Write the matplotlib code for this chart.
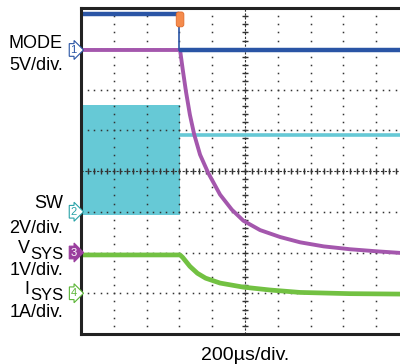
import numpy as np
import matplotlib
matplotlib.use("Agg")
import matplotlib.pyplot as plt

plt.rcParams['font.family'] = ['Liberation Sans', 'DejaVu Sans']

# screen divisions: x 0..10 (200us/div), y 0..8
trig = 3.02

mode_t = [0.0, 3.0, 3.0, 10.0]
mode_y = [7.85, 7.85, 6.97, 6.97]

vsys_t = [0.0, 3.02, 3.1, 3.2, 3.32, 3.45, 3.63, 3.88, 4.24, 4.6, 4.95, 5.46,
          6.07, 6.68, 7.4, 8.2, 9.0, 9.73, 10.0]
vsys_y = [6.97, 6.97, 6.5, 5.95, 5.38, 4.9, 4.40, 3.95, 3.42, 3.05, 2.78, 2.55,
          2.38, 2.25, 2.15, 2.08, 2.03, 1.99, 1.98]

isys_t = [0.0, 3.02, 3.1, 3.32, 3.55, 3.8, 4.24, 4.95, 5.76, 6.68, 8.2, 9.73, 10.0]
isys_y = [1.94, 1.94, 1.88, 1.66, 1.49, 1.37, 1.25, 1.15, 1.08, 1.02, 0.99, 0.98, 0.98]

sw_top, sw_bot = 5.62, 2.92
sw_after = 4.88

ch_level = {'1': 6.97, '2': 3.0, '3': 2.0, '4': 1.0}
ch_color = {'1': '#2a55a5', '2': '#2aa3a8', '3': '#9a3e9e', '4': '#5bb536'}

blue = '#2a55a5'
purple = '#a457ad'
cyan = '#66c9d6'
green = '#72c142'

fig = plt.figure(figsize=(4, 3.64), dpi=100)
ax = fig.add_axes([81/400, 1-334/364, (409-81)/400, 326/364])
ax.set_xlim(0, 10)
ax.set_ylim(0, 8)
ax.set_xticks([])
ax.set_yticks([])
for s in ['left', 'top', 'bottom']:
    ax.spines[s].set_linewidth(2.2)
    ax.spines[s].set_color('#222222')
ax.spines['right'].set_visible(False)

# dotted graticule
for gx in range(1, 10):
    yy = np.arange(0, 8.01, 0.2)
    ax.plot(np.full_like(yy, gx), yy, ls='none', marker='s', ms=1.1, color='#333333', mew=0)
for gy in range(1, 8):
    xx = np.arange(0, 10.01, 0.2)
    ax.plot(xx, np.full_like(xx, gy), ls='none', marker='s', ms=1.1, color='#333333', mew=0)
# center cross with ticks
ax.axvline(5, color='#333333', lw=0.8, ls=(0, (2, 1.5)))
ax.axhline(4, color='#333333', lw=0.8, ls=(0, (2, 1.5)))
yy = np.arange(0, 8.01, 0.2)
ax.plot(np.full_like(yy, 5), yy, ls='none', marker='_', ms=5, mew=1, color='#333333')
xx = np.arange(0, 10.01, 0.2)
ax.plot(xx, np.full_like(xx, 4), ls='none', marker='|', ms=5, mew=1, color='#333333')

# traces
ax.fill_between([0, trig], sw_bot, sw_top, color=cyan, lw=0)
ax.plot([trig, 10], [sw_after, sw_after], color=cyan, lw=2.6)
ax.plot(isys_t, isys_y, color=green, lw=3.4, solid_capstyle='butt', solid_joinstyle='round')
ax.plot(vsys_t, vsys_y, color=purple, lw=2.8, solid_capstyle='butt', solid_joinstyle='round')
ax.plot(mode_t[:2], mode_y[:2], color=blue, lw=3.2, solid_capstyle='butt')
ax.plot(mode_t[1:3], mode_y[1:3], color=blue, lw=1.2)
ax.plot(mode_t[2:], mode_y[2:], color=blue, lw=3.2, solid_capstyle='butt')

# trigger marker
ax.annotate(' ', xy=(trig, 7.72), ha='center', va='center', fontsize=7,
            bbox=dict(boxstyle='round,pad=0.25', fc='#f58b4c', ec='#e06a2a', lw=0.6),
            annotation_clip=False)

# channel markers
for ch, lvl in ch_level.items():
    filled = ch == '3'
    ax.annotate(ch, xy=(0, lvl), xytext=(-3, 0), textcoords='offset points',
                ha='right', va='center', fontsize=8,
                color='white' if filled else ch_color[ch],
                bbox=dict(boxstyle='rarrow,pad=0.12', fc=ch_color[ch] if filled else 'white',
                          ec=ch_color[ch], lw=0.8),
                annotation_clip=False)

def ftext(x, y, s, **kw):
    return fig.text(x/400, 1-y/364, s, ha='right', va='baseline', fontsize=13, **kw)

ftext(63, 48, 'MODE')
ftext(63, 70, '5V/div.')
ftext(63, 208, 'SW')
ftext(63, 233, '2V/div.')
sys1 = ftext(63, 259, 'SYS', )
sys1.set_fontsize(12)
ax.annotate('V', xy=(0, 0), xycoords=sys1, xytext=(0, 5), textcoords='offset pixels',
            ha='right', va='bottom', fontsize=13)
ftext(63, 275, '1V/div.')
sys2 = ftext(63, 300, 'SYS')
sys2.set_fontsize(12)
ax.annotate('I', xy=(0, 0), xycoords=sys2, xytext=(0, 5), textcoords='offset pixels',
            ha='right', va='bottom', fontsize=13)
ftext(63, 317, '1A/div.')
fig.text(245/400, 1-360/364, '200\u00b5s/div.', ha='center', va='baseline', fontsize=14)

fig.savefig('out.png', dpi=100)
